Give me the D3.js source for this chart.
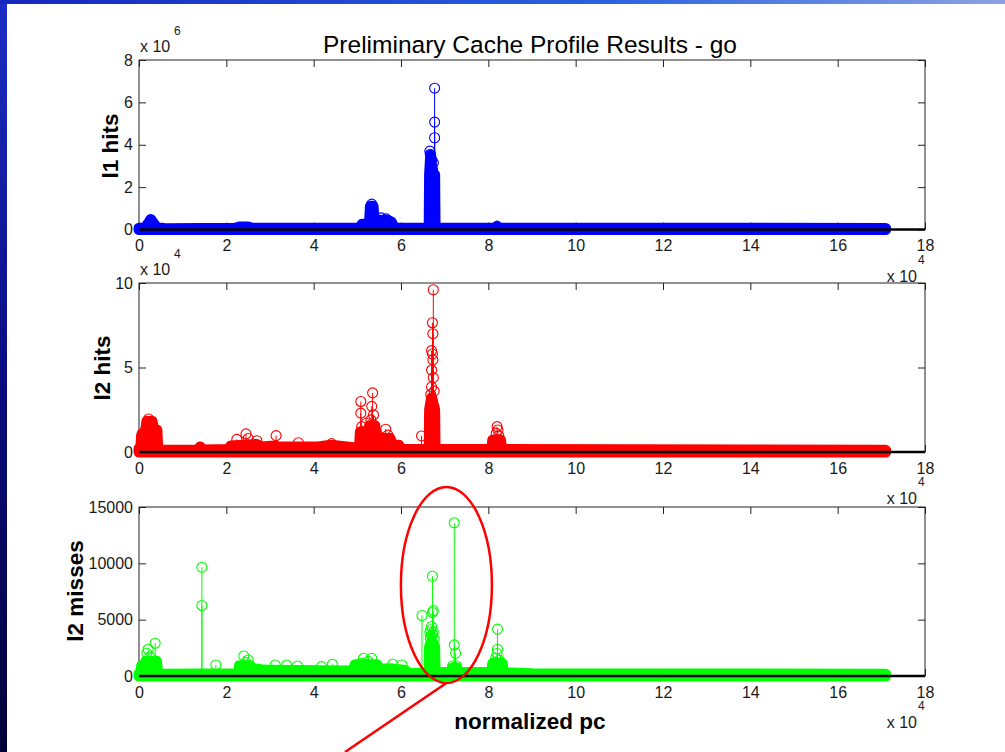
<!DOCTYPE html>
<html>
<head>
<meta charset="utf-8">
<script src="https://cdn.jsdelivr.net/npm/d3@7"></script>
<style>
  html, body { margin: 0; padding: 0; background: #fff; }
  svg { display: block; font-family: "Liberation Sans", Arial, sans-serif; }
</style>
</head>
<body>
<div id="chart"></div>
<script>
// x is normalized pc in units of 10^4
const xTicks = [0, 2, 4, 6, 8, 10, 12, 14, 16, 18];

// l1 hits, units of 10^6
const l1Ticks = [0, 2, 4, 6, 8];
const l1Band = [
  [0, 0.05], [0.15, 0.1], [0.27, 0.46], [0.4, 0.1], [0.6, 0.04], [2.2, 0.06], [2.3, 0.12], [2.5, 0.12],
  [2.6, 0.06], [5.05, 0.06], [5.11, 0.25], [5.28, 0.3], [5.3, 1.1], [5.36, 1.1], [5.38, 0.45], [5.7, 0.42],
  [5.78, 0.35], [5.85, 0.06], [6.645, 0.06], [6.655, 2.6], [6.68, 3.5], [6.71, 2.7], [6.77, 2.6],
  [6.78, 0.06], [8.15, 0.06], [8.2, 0.15], [8.25, 0.06], [17.1, 0.05]
];
const l1Stems = [
  [6.77, 6.67], [6.77, 5.07], [6.77, 4.33], [6.66, 3.7], [6.67, 3.55], [6.7, 3.3], [6.68, 3.05],
  [6.74, 3.15], [6.72, 2.85], [5.33, 1.2], [5.33, 1.02], [5.55, 0.55], [5.66, 0.5], [0.27, 0.46]
];

// l2 hits, units of 10^4
const l2Ticks = [0, 5, 10];
const l2Band = [
  [0, 0.2], [0.04, 0.2], [0.06, 1.0], [0.14, 1.0], [0.18, 1.8], [0.3, 1.8], [0.34, 1.3], [0.41, 1.3],
  [0.43, 0.15], [0.55, 0.1], [1.35, 0.12], [1.4, 0.3], [1.45, 0.12], [2.05, 0.15], [2.1, 0.35],
  [2.7, 0.45], [2.8, 0.3], [3.1, 0.35], [3.2, 0.3], [4.1, 0.3], [4.4, 0.4], [4.9, 0.25], [5.05, 0.25],
  [5.07, 1.2], [5.25, 1.2], [5.28, 1.55], [5.4, 1.55], [5.45, 0.8], [5.75, 0.8], [5.8, 0.4], [5.95, 0.4],
  [5.98, 0.15], [6.645, 0.15], [6.655, 2.5], [6.7, 3.2], [6.77, 2.5], [6.78, 0.15], [8.08, 0.15],
  [8.1, 0.7], [8.28, 0.7], [8.3, 0.15], [17.1, 0.1]
];
const l2Stems = [
  [6.74, 9.6], [6.72, 7.65], [6.73, 7.0], [6.7, 6.0], [6.72, 5.8], [6.73, 5.45], [6.7, 4.85],
  [6.74, 4.4], [6.7, 3.85], [6.76, 3.6], [6.68, 3.4], [6.72, 3.0], [6.47, 0.95],
  [5.08, 2.99], [5.08, 2.3], [5.1, 1.5], [5.35, 3.5], [5.33, 2.7], [5.37, 2.2], [5.31, 1.9],
  [5.2, 1.7], [5.65, 1.35], [5.7, 1.0],
  [0.22, 1.95], [0.25, 1.8], [0.3, 1.5], [0.35, 1.3], [0.08, 1.1],
  [2.24, 0.75], [2.45, 1.07], [2.5, 0.8], [2.7, 0.67], [3.14, 0.97], [3.65, 0.55], [4.41, 0.5],
  [8.2, 1.5], [8.22, 1.3], [8.18, 1.1], [8.24, 0.95]
];

// l2 misses
const m2Ticks = [0, 5000, 10000, 15000];
const m2Band = [
  [0, 200], [0.04, 200], [0.06, 900], [0.14, 900], [0.16, 1300], [0.4, 1300], [0.42, 500], [0.5, 150],
  [2.28, 200], [2.3, 900], [2.55, 900], [2.6, 650], [2.8, 550], [3.0, 500], [4.9, 450], [4.95, 1000],
  [5.45, 1000], [5.5, 600], [5.75, 650], [6.1, 500], [6.15, 250], [6.645, 250], [6.655, 2600],
  [6.7, 3100], [6.77, 2600], [6.78, 300], [7.15, 300], [7.18, 700], [7.28, 700], [7.3, 300], [8.08, 300],
  [8.1, 1100], [8.32, 1100], [8.34, 300], [9.0, 200], [17.1, 150]
];
const m2Stems = [
  [7.22, 13600], [6.72, 8850], [6.72, 5640], [6.74, 5800], [6.48, 5370], [6.7, 4400], [6.68, 4100],
  [6.74, 3900], [6.7, 3600], [6.76, 3300], [6.67, 3400], [6.73, 3700], [6.66, 3900],
  [7.22, 2760], [7.25, 2020], [7.18, 890], [7.27, 890],
  [8.21, 4160], [8.21, 2380], [8.2, 2000], [8.17, 1600], [8.25, 1400], [8.28, 1000], [8.15, 1200],
  [1.44, 9650], [1.44, 6260], [0.37, 2910], [0.21, 2380], [0.18, 2020], [0.25, 1700], [0.33, 1270],
  [1.76, 980], [2.4, 1780], [2.5, 1425], [2.45, 1200], [3.12, 980], [3.38, 980], [3.63, 890],
  [4.18, 830], [4.43, 1040], [5.14, 1570], [5.33, 1570], [5.1, 1130], [5.25, 1300], [5.81, 1040],
  [6.02, 980]
];

const panels = [
  {label: "l1 hits", color: "#0000ff", domain: [0, 8], ticks: l1Ticks, band: l1Band, stems: l1Stems,
   top: 60, bottom: 229.5, yExp: "6", labelX: 118, labelY: 146},
  {label: "l2 hits", color: "#ff0000", domain: [0, 10], ticks: l2Ticks, band: l2Band, stems: l2Stems,
   top: 283, bottom: 452, yExp: "4", labelX: 110, labelY: 368},
  {label: "l2 misses", color: "#00ff00", domain: [0, 15000], ticks: m2Ticks, band: m2Band, stems: m2Stems,
   top: 507, bottom: 676, yExp: null, labelX: 83, labelY: 591}
];

const width = 1005, height = 752;
const r = 5;

const svg = d3.select("#chart").append("svg")
  .attr("width", width)
  .attr("height", height);

// slide frame
const defs = svg.append("defs");
const gTop = defs.append("linearGradient").attr("id", "topband");
gTop.append("stop").attr("offset", "0%").attr("stop-color", "#1526c0");
gTop.append("stop").attr("offset", "60%").attr("stop-color", "#2a62e0");
gTop.append("stop").attr("offset", "100%").attr("stop-color", "#8aa2e2");
const gLeft = defs.append("linearGradient").attr("id", "leftband")
  .attr("x1", 0).attr("y1", 0).attr("x2", 0).attr("y2", 1);
gLeft.append("stop").attr("offset", "0%").attr("stop-color", "#1c2ec4");
gLeft.append("stop").attr("offset", "50%").attr("stop-color", "#0a0c80");
gLeft.append("stop").attr("offset", "100%").attr("stop-color", "#030238");

svg.append("rect").attr("width", width).attr("height", height).attr("fill", "#fff");
svg.append("rect").attr("width", 7).attr("height", height).attr("fill", "url(#leftband)");
svg.append("rect").attr("width", width).attr("height", 4).attr("fill", "url(#topband)");

const x = d3.scaleLinear().domain([0, 18]).range([139, 925]);

function drawPanel(p) {
  const y = d3.scaleLinear().domain(p.domain).range([p.bottom, p.top]);
  const g = svg.append("g");

  g.append("rect")
    .attr("x", x(0)).attr("y", p.top)
    .attr("width", x(18) - x(0)).attr("height", p.bottom - p.top)
    .attr("fill", "none").attr("stroke", "#222").attr("stroke-width", 1);

  const axes = [
    {ax: d3.axisBottom(x).tickValues(xTicks).tickPadding(10.5), t: `translate(0,${p.bottom})`, labels: true},
    {ax: d3.axisTop(x).tickValues(xTicks), t: `translate(0,${p.top})`, labels: false},
    {ax: d3.axisLeft(y).tickValues(p.ticks).tickFormat(d3.format("d")).tickPadding(6), t: `translate(${x(0)},0)`, labels: true},
    {ax: d3.axisRight(y).tickValues(p.ticks), t: `translate(${x(18)},0)`, labels: false}
  ];
  axes.forEach(function(a) {
    const ag = g.append("g")
      .attr("transform", a.t)
      .call(a.ax.tickSizeInner(-7).tickSizeOuter(0));
    ag.select(".domain").remove();
    ag.selectAll("line").attr("stroke", "#222");
    ag.attr("font-family", null).attr("font-size", 16);
    ag.selectAll("text").attr("fill", "#1a1a1a");
    if (!a.labels) ag.selectAll("text").remove();
  });

  // dense low values
  const area = d3.area()
    .x(d => x(d[0]))
    .y0(y(0))
    .y1(d => y(d[1]));
  g.append("path")
    .datum(p.band)
    .attr("d", area)
    .attr("fill", p.color)
    .attr("stroke", p.color)
    .attr("stroke-width", 2 * r + 1)
    .attr("stroke-linejoin", "round")
    .attr("stroke-linecap", "round");

  g.append("g").selectAll("line")
    .data(p.stems)
    .join("line")
    .attr("x1", d => x(d[0])).attr("x2", d => x(d[0]))
    .attr("y1", y(0)).attr("y2", d => y(d[1]))
    .attr("stroke", p.color).attr("stroke-width", 1);

  g.append("g").selectAll("circle")
    .data(p.stems)
    .join("circle")
    .attr("cx", d => x(d[0]))
    .attr("cy", d => y(d[1]))
    .attr("r", r)
    .attr("fill", "none")
    .attr("stroke", p.color)
    .attr("stroke-width", 1.1);

  // stem baseline
  g.append("line")
    .attr("x1", x(0)).attr("x2", x(18))
    .attr("y1", y(0)).attr("y2", y(0))
    .attr("stroke", "#000").attr("stroke-width", 2.5);

  // x exponent
  g.append("text")
    .attr("x", 917).attr("y", p.bottom + 52)
    .attr("text-anchor", "end").attr("font-size", 16).attr("fill", "#1a1a1a")
    .text("x 10");
  g.append("text")
    .attr("x", 918).attr("y", p.bottom + 34)
    .attr("font-size", 12).attr("fill", "#1a1a1a")
    .text("4");

  if (p.yExp) {
    g.append("text")
      .attr("x", 140).attr("y", p.top - 8)
      .attr("font-size", 16).attr("fill", "#1a1a1a")
      .text("x 10");
    g.append("text")
      .attr("x", 174).attr("y", p.top - 25)
      .attr("font-size", 12).attr("fill", "#1a1a1a")
      .text(p.yExp);
  }

  svg.append("text")
    .attr("transform", `translate(${p.labelX},${p.labelY}) rotate(-90)`)
    .attr("text-anchor", "middle")
    .attr("font-size", 22.5)
    .attr("font-weight", "bold")
    .attr("fill", "#000")
    .text(p.label);
}

panels.forEach(drawPanel);

svg.append("text")
  .attr("x", 530).attr("y", 53)
  .attr("text-anchor", "middle")
  .attr("font-size", 24.5)
  .attr("fill", "#000")
  .text("Preliminary Cache Profile Results - go");

svg.append("text")
  .attr("x", 530).attr("y", 729)
  .attr("text-anchor", "middle")
  .attr("font-size", 22.5)
  .attr("font-weight", "bold")
  .attr("fill", "#000")
  .text("normalized pc");

// red annotation around the 7 x 10^4 spikes
const yMiss = d3.scaleLinear().domain([0, 15000]).range([676, 507]);
const note = {cx: 7.04, cy: 8080, rx: 45.5, ry: 98};
svg.append("ellipse")
  .attr("cx", x(note.cx)).attr("cy", yMiss(note.cy))
  .attr("rx", note.rx).attr("ry", note.ry)
  .attr("fill", "none").attr("stroke", "#ff0000").attr("stroke-width", 2.5);
svg.append("line")
  .attr("x1", x(note.cx)).attr("y1", yMiss(note.cy) + note.ry)
  .attr("x2", 345).attr("y2", 752)
  .attr("stroke", "#ff0000").attr("stroke-width", 2.5);
</script>
</body>
</html>
